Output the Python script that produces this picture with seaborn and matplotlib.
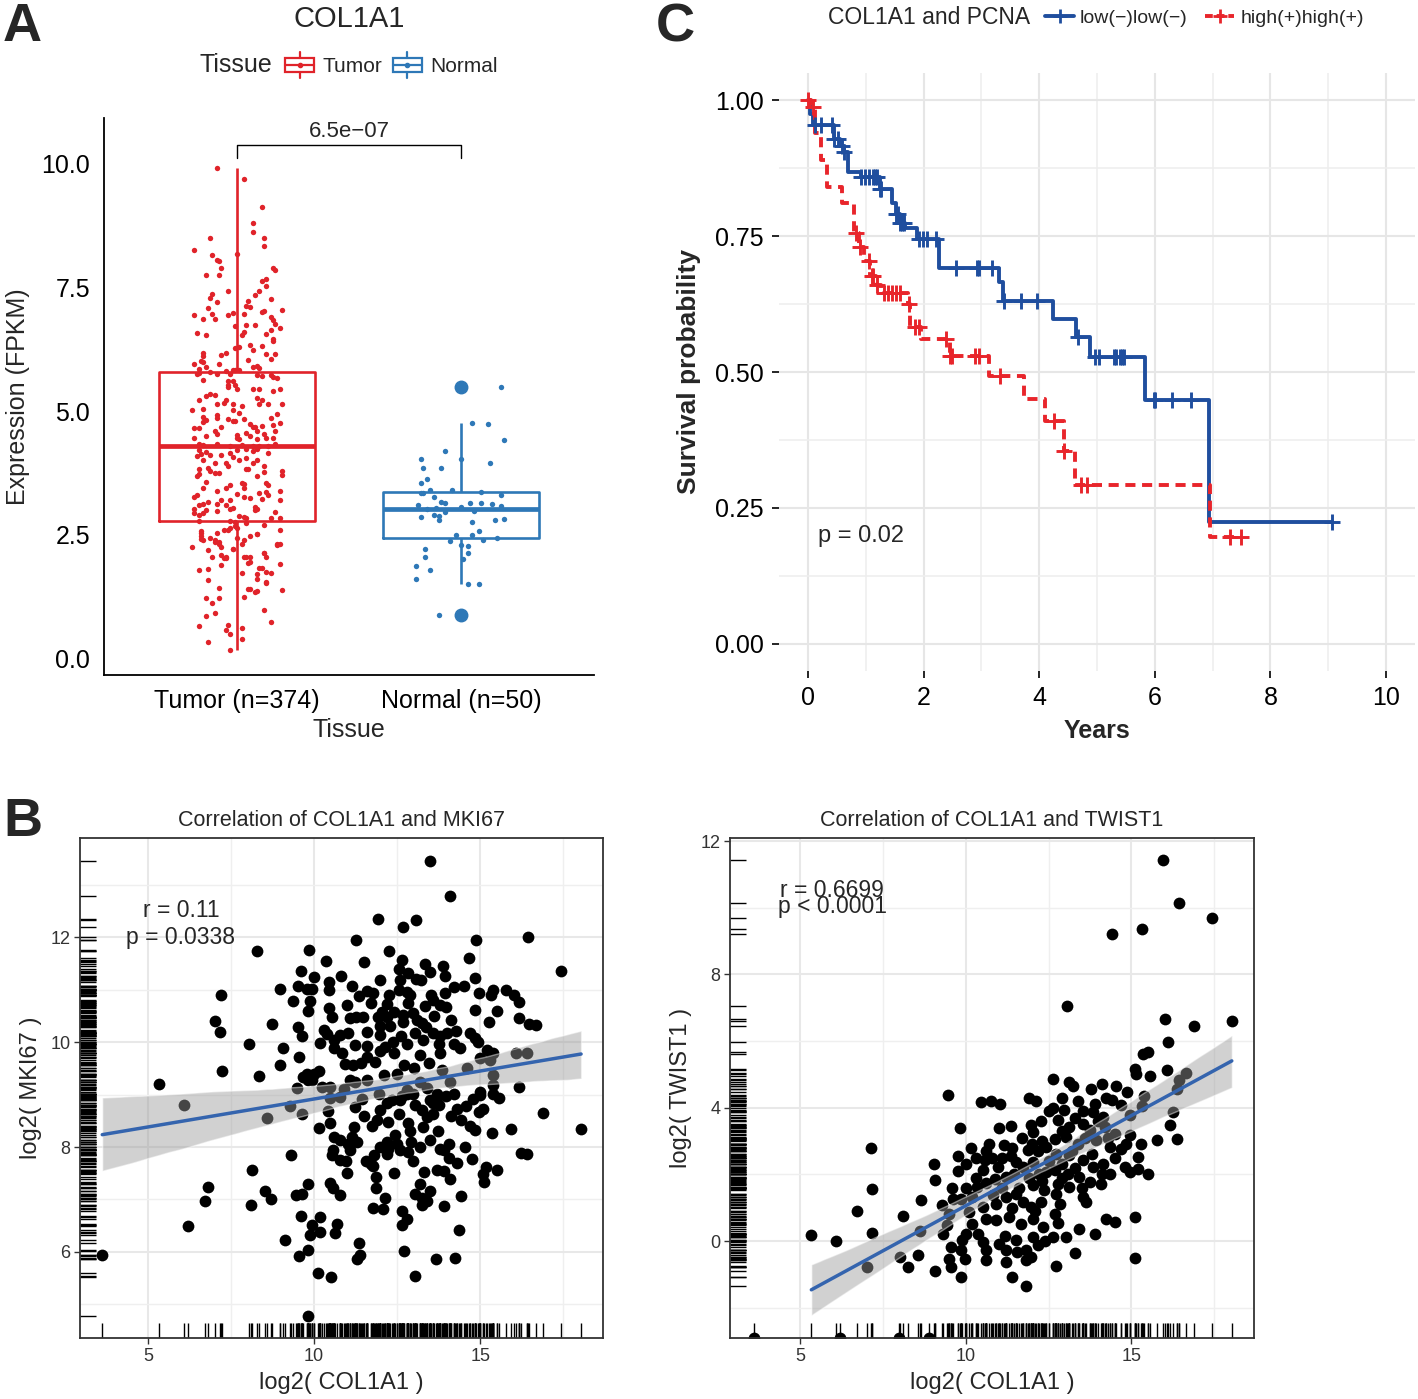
import numpy as np
import pandas as pd
import matplotlib
matplotlib.use("Agg")
import matplotlib.pyplot as plt
import seaborn as sns
from matplotlib.patches import Rectangle, Patch
from matplotlib.lines import Line2D
from matplotlib.legend_handler import HandlerBase

sns.set_style("white")
plt.rcParams["font.family"] = ["Liberation Sans", "DejaVu Sans"]

# ---------------- DATA ----------------
# Panel A: (jitter offset, expression)
tissue_order = ["Tumor", "Normal"]
tissue_ticklabels = ["Tumor (n=374)", "Normal (n=50)"]
tumor_points = [
    (-0.09, 9.91), (0.03, 9.70), (0.11, 9.13), (0.07, 8.81), (0.07, 8.62), (-0.12, 8.51), (0.12, 8.51), (0.12, 8.35),
    (-0.19, 8.25), (0.00, 8.17), (-0.11, 8.16), (-0.09, 8.05), (-0.08, 8.03), (-0.07, 7.90), (0.16, 7.90), (0.17, 7.86),
    (-0.14, 7.76), (-0.08, 7.75), (0.11, 7.63), (0.13, 7.67), (0.13, 7.53), (-0.04, 7.43), (0.10, 7.43), (0.08, 7.34),
    (-0.11, 7.36), (-0.12, 7.29), (0.15, 7.27), (-0.09, 7.20), (0.05, 7.23), (0.04, 7.13), (-0.13, 7.09), (0.06, 7.11),
    (0.12, 7.03), (0.11, 7.00), (0.20, 7.04), (-0.19, 6.95), (-0.04, 6.94), (-0.02, 6.99), (0.03, 6.97), (-0.11, 6.97),
    (-0.10, 6.86), (-0.15, 6.86), (0.15, 6.90), (0.16, 6.84), (-0.01, 6.72), (0.04, 6.75), (0.08, 6.75), (0.17, 6.77),
    (0.19, 6.68), (0.15, 6.65), (0.03, 6.59), (0.02, 6.53), (-0.18, 6.57), (-0.14, 6.53), (0.13, 6.56), (0.16, 6.42),
    (0.16, 6.45), (-0.01, 6.28), (0.01, 6.29), (0.06, 6.33), (0.07, 6.23), (0.11, 6.32), (-0.05, 6.18), (-0.07, 6.14),
    (-0.15, 6.18), (-0.15, 6.12), (0.17, 6.16), (0.13, 6.15), (0.15, 6.06), (0.05, 6.04), (-0.08, 5.96), (-0.19, 5.96),
    (-0.16, 6.01), (-0.15, 6.00), (-0.14, 5.89), (-0.17, 5.85), (-0.17, 5.78), (-0.18, 5.75), (-0.02, 5.83), (-0.01, 5.84),
    (0.01, 5.84), (0.07, 5.89), (0.09, 5.92), (0.10, 5.87), (-0.12, 5.79), (-0.09, 5.75), (-0.05, 5.81), (-0.03, 5.76),
    (0.09, 5.74), (0.11, 5.71), (0.15, 5.72), (0.16, 5.69), (0.18, 5.66), (-0.15, 5.62), (-0.04, 5.60), (-0.02, 5.60),
    (-0.04, 5.52), (-0.04, 5.48), (-0.01, 5.52), (0.00, 5.44), (0.07, 5.45), (0.10, 5.44), (0.16, 5.41), (0.19, 5.45),
    (-0.12, 5.35), (-0.10, 5.32), (-0.14, 5.31), (-0.17, 5.23), (-0.09, 5.15), (-0.05, 5.22), (-0.06, 5.17), (-0.02, 5.14),
    (0.02, 5.10), (0.09, 5.27), (0.11, 5.23), (0.10, 5.15), (0.14, 5.14), (0.20, 5.15), (-0.20, 5.03), (-0.15, 5.04),
    (-0.02, 5.03), (0.01, 4.96), (-0.09, 4.93), (-0.15, 4.88), (-0.14, 4.81), (-0.09, 4.85), (-0.15, 4.77), (-0.04, 4.83),
    (-0.02, 4.80), (-0.01, 4.80), (0.03, 4.84), (0.18, 4.95), (0.15, 4.86), (0.19, 4.76), (0.16, 4.71), (0.06, 4.73),
    (0.07, 4.67), (0.08, 4.68), (0.11, 4.70), (-0.19, 4.66), (-0.17, 4.66), (-0.07, 4.68), (-0.10, 4.59), (-0.09, 4.54),
    (0.00, 4.52), (0.04, 4.56), (0.09, 4.60), (0.17, 4.59), (0.12, 4.54), (-0.14, 4.49), (-0.19, 4.46), (0.00, 4.46),
    (0.01, 4.44), (0.06, 4.50), (0.13, 4.46), (0.16, 4.45), (0.09, 4.44), (-0.17, 4.34), (-0.15, 4.32), (-0.09, 4.34),
    (-0.03, 4.29), (0.02, 4.32), (0.07, 4.29), (0.10, 4.30), (0.14, 4.29), (0.17, 4.34), (-0.17, 4.21), (-0.16, 4.13),
    (-0.14, 4.18), (-0.12, 4.12), (-0.03, 4.16), (0.00, 4.22), (0.04, 4.23), (0.07, 4.20), (0.09, 4.24), (0.14, 4.16),
    (-0.18, 4.09), (-0.07, 4.11), (-0.02, 4.07), (0.01, 4.01), (0.04, 4.05), (-0.15, 4.02), (-0.10, 3.94), (-0.05, 3.94),
    (-0.04, 3.88), (0.07, 3.94), (0.09, 4.01), (-0.17, 3.82), (-0.13, 3.84), (-0.12, 3.78), (-0.10, 3.75), (-0.08, 3.74),
    (0.04, 3.82), (0.05, 3.82), (0.12, 3.88), (0.12, 3.77), (0.20, 3.79), (0.20, 3.70), (-0.17, 3.72), (-0.18, 3.68),
    (0.09, 3.68), (-0.14, 3.56), (0.02, 3.55), (0.03, 3.52), (0.13, 3.55), (0.14, 3.51), (-0.03, 3.50), (-0.05, 3.45),
    (-0.15, 3.45), (-0.09, 3.39), (0.03, 3.44), (0.13, 3.37), (0.19, 3.38), (0.00, 3.33), (0.10, 3.34), (0.14, 3.31),
    (-0.19, 3.26), (-0.18, 3.30), (0.03, 3.26), (0.06, 3.24), (0.11, 3.22), (0.19, 3.20), (-0.07, 3.20), (-0.03, 3.21),
    (-0.15, 3.12), (-0.13, 3.16), (-0.09, 3.13), (-0.05, 3.10), (-0.17, 3.10), (0.08, 3.06), (0.09, 3.02), (-0.19, 3.01),
    (-0.14, 2.99), (-0.09, 2.98), (-0.03, 3.01), (-0.02, 3.03), (0.08, 3.00), (0.17, 2.95), (-0.19, 2.93), (-0.17, 2.89),
    (-0.15, 2.93), (0.01, 2.88), (0.03, 2.85), (0.04, 2.83), (0.15, 2.83), (0.19, 2.83), (-0.17, 2.78), (-0.03, 2.78),
    (-0.01, 2.76), (0.04, 2.74), (-0.01, 2.68), (0.19, 2.59), (-0.16, 2.57), (-0.04, 2.60), (-0.06, 2.59), (-0.03, 2.64),
    (0.09, 2.51), (-0.16, 2.47), (-0.12, 2.43), (-0.09, 2.54), (-0.08, 2.35), (-0.16, 2.41), (0.00, 2.43), (0.03, 2.39),
    (0.02, 2.32), (0.19, 2.32), (0.18, 2.29), (-0.20, 2.24), (-0.10, 2.40), (-0.07, 2.24), (-0.02, 2.21), (-0.13, 2.18),
    (-0.07, 2.08), (0.04, 2.05), (0.12, 2.12), (0.13, 2.05), (-0.05, 2.02), (-0.05, 2.05), (0.06, 2.04), (-0.11, 2.04),
    (0.05, 1.92), (-0.07, 1.89), (0.19, 1.90), (0.11, 1.83), (-0.17, 1.79), (-0.13, 1.80), (0.02, 1.73), (0.15, 1.73),
    (0.09, 1.70), (-0.13, 1.59), (0.05, 1.40), (-0.08, 1.42), (0.20, 1.38), (0.08, 1.34), (0.13, 1.52), (0.03, 1.24),
    (-0.14, 1.21), (-0.08, 1.22), (-0.11, 1.11), (0.12, 0.98), (-0.10, 0.91), (-0.14, 0.85), (0.15, 0.74), (-0.17, 0.66),
    (-0.04, 0.67), (0.02, 0.61), (-0.05, 0.57), (-0.03, 0.49), (0.02, 0.38), (-0.13, 0.32), (-0.03, 0.16),
    (-0.16, 2.54), (-0.15, 2.39), (0.00, 2.63), (0.06, 2.48), (0.09, 2.52), (0.12, 2.69), (-0.10, 2.35), (-0.08, 2.32),
    (-0.02, 2.20), (0.12, 2.13), (0.18, 2.31), (-0.06, 2.02), (0.03, 2.05), (0.06, 1.95), (0.10, 1.83), (0.13, 1.75),
    (0.09, 1.60), (0.13, 1.54), (0.06, 1.41), (0.09, 1.36),
]
normal_points = [
    (0.18, 5.48), (0.05, 4.76), (0.12, 4.73), (0.19, 4.41), (-0.07, 4.19), (-0.18, 4.03), (0.00, 4.03), (0.13, 3.94),
    (-0.17, 3.84), (-0.09, 3.84), (-0.15, 3.62), (-0.18, 3.55), (-0.14, 3.41), (-0.18, 3.34), (-0.17, 3.34), (0.09, 3.36),
    (0.18, 3.30), (-0.12, 3.26), (-0.09, 3.16), (-0.07, 3.15), (0.04, 3.15), (0.09, 3.15), (0.14, 3.13), (-0.19, 3.10),
    (-0.15, 3.02), (-0.11, 3.03), (-0.07, 2.96), (0.18, 3.07), (-0.18, 2.86), (-0.10, 2.87), (-0.10, 2.79), (0.05, 2.76),
    (0.15, 2.80), (0.19, 2.82), (0.08, 2.58), (-0.02, 2.50), (0.05, 2.50), (0.16, 2.44), (0.00, 2.29), (0.03, 2.27),
    (-0.16, 2.20), (0.03, 2.12), (-0.16, 2.04), (0.01, 2.01), (-0.20, 1.86), (-0.14, 1.79), (-0.20, 1.61), (0.03, 1.50),
    (0.08, 1.50), (-0.10, 0.88), (0.00, 3.05), (-0.04, 3.40), (0.06, 2.98), (-0.12, 2.90), (0.10, 2.40), (-0.05, 2.38),
]
p_value_A = "6.5e\u221207"

# Panel C: Kaplan-Meier steps (years, survival) and censor times
km_labels = ["low(\u2212)low(\u2212)", "high(+)high(+)"]
low_time = [0, 0.04, 0.09, 0.45, 0.55, 0.63, 0.70, 0.91, 1.24, 1.45, 1.52, 1.60, 1.68, 1.88, 2.26, 3.30, 3.37,
            4.24, 4.63, 4.88, 5.83, 6.93, 9.07]
low_surv = [1.0, 0.975, 0.954, 0.928, 0.915, 0.904, 0.867, 0.858, 0.836, 0.810, 0.790, 0.775, 0.765, 0.745, 0.692,
            0.665, 0.631, 0.597, 0.564, 0.527, 0.449, 0.225, 0.225]
low_censor = [0.12, 0.23, 0.41, 0.45, 0.52, 0.59, 0.63, 0.91, 0.98, 1.06, 1.13, 1.16, 1.20, 1.24, 1.27, 1.52, 1.56,
              1.60, 1.63, 1.67, 1.92, 1.99, 2.06, 2.21, 2.56, 2.92, 2.96, 3.18, 3.39, 3.68, 3.97, 4.68, 4.97, 5.04,
              5.29, 5.33, 5.40, 5.44, 5.47, 5.98, 6.01, 6.30, 6.62, 9.07]
high_time = [0, 0.05, 0.12, 0.23, 0.33, 0.59, 0.80, 0.88, 0.97, 1.08, 1.17, 1.27, 1.73, 1.76, 1.95, 2.46, 3.14,
             3.74, 4.10, 4.43, 4.62, 6.95, 7.49]
high_surv = [1.0, 0.987, 0.94, 0.89, 0.841, 0.81, 0.755, 0.73, 0.705, 0.677, 0.66, 0.646, 0.625, 0.582, 0.56, 0.529,
             0.493, 0.45, 0.41, 0.355, 0.292, 0.196, 0.196]
high_censor = [0.0, 0.09, 0.84, 0.90, 1.06, 1.10, 1.13, 1.20, 1.31, 1.38, 1.45, 1.52, 1.59, 1.75, 1.85, 1.92, 2.39,
               2.46, 2.49, 2.89, 2.96, 3.32, 4.25, 4.43, 4.72, 4.83, 7.30, 7.49]

# Panel B: (log2 COL1A1, log2 MKI67)
mki67_points = [
    (3.62, 5.94), (5.32, 9.21), (6.08, 8.81), (6.20, 6.50), (6.70, 6.98), (6.79, 7.24), (7.03, 10.41), (7.16, 10.20),
    (7.20, 10.90), (7.22, 9.45), (16.45, 12.01), (17.43, 11.36), (15.77, 11.00), (16.02, 10.90), (16.16, 10.76),
    (16.18, 10.46), (16.47, 10.34), (16.67, 10.32), (16.09, 9.80), (16.40, 9.80), (16.18, 9.15), (16.89, 8.64),
    (18.04, 8.35), (15.94, 8.34), (16.23, 7.89), (16.42, 7.87), (13.49, 13.46), (9.81, 4.78),
    (14.08, 12.78), (11.92, 12.34), (12.69, 12.20), (13.07, 12.32), (11.26, 11.95), (14.88, 11.94), (8.27, 11.73),
    (9.84, 11.75), (12.27, 11.74), (10.35, 11.54), (11.51, 11.52), (12.66, 11.56), (14.65, 11.60), (13.34, 11.49),
    (13.88, 11.45), (9.61, 11.36), (10.01, 11.25), (10.81, 11.26), (12.55, 11.40), (12.82, 11.31), (13.07, 11.21),
    (13.49, 11.34), (13.93, 11.26), (14.85, 11.23), (8.97, 11.02), (9.50, 11.07), (9.78, 11.02), (9.94, 11.02),
    (10.45, 11.15), (10.46, 10.99), (11.15, 11.07), (11.97, 11.19), (12.59, 11.18), (12.55, 11.00), (12.79, 10.96),
    (13.22, 11.19), (14.20, 11.05), (14.52, 11.07), (9.35, 10.79), (9.87, 10.79), (9.82, 10.60), (11.36, 10.88),
    (11.59, 10.98), (11.77, 10.94), (11.71, 10.75), (12.26, 10.89), (12.19, 10.72), (12.84, 10.75), (13.51, 10.90),
    (13.57, 10.80), (13.93, 10.93), (13.35, 10.69), (13.78, 10.70), (13.98, 10.66), (14.97, 10.93), (15.33, 10.90),
    (15.40, 10.99), (8.72, 10.34), (9.52, 10.29), (9.64, 10.11), (10.46, 10.65), (10.54, 10.47), (11.08, 10.45),
    (11.26, 10.48), (11.46, 10.47), (11.91, 10.48), (12.04, 10.58), (12.19, 10.48), (12.42, 10.58), (12.69, 10.51),
    (12.67, 10.39), (12.99, 10.56), (13.09, 10.42), (13.26, 10.36), (13.37, 10.29), (14.13, 10.42), (14.86, 10.61),
    (15.28, 10.39), (15.50, 10.59), (10.31, 10.23), (10.40, 10.15), (11.97, 10.30), (11.99, 10.13), (10.78, 10.13),
    (11.03, 10.17), (10.60, 10.04), (10.18, 9.99), (13.04, 10.18), (13.27, 10.04), (13.59, 10.18), (13.78, 10.11),
    (14.00, 10.17), (14.28, 10.22), (14.68, 10.18), (14.86, 10.07), (12.37, 10.01), (12.61, 10.11), (12.79, 9.97),
    (13.75, 9.96), (14.20, 9.97), (14.40, 9.88), (14.95, 10.01), (8.04, 9.96), (9.06, 9.88), (9.55, 9.71),
    (10.60, 9.88), (10.83, 9.80), (11.23, 9.94), (11.59, 9.92), (11.97, 9.83), (12.14, 9.90), (13.19, 9.75),
    (15.20, 9.85), (8.98, 9.57), (8.34, 9.36), (10.93, 9.58), (11.18, 9.56), (11.59, 9.72), (11.83, 9.63),
    (12.72, 9.56), (13.45, 9.61), (9.78, 9.40), (10.00, 9.39), (10.16, 9.45), (9.68, 9.34), (9.93, 9.28),
    (15.38, 9.80), (15.00, 9.05), (15.40, 9.37), (15.40, 9.18), (9.48, 9.12), (10.23, 9.15), (11.08, 9.28),
    (12.09, 9.37), (12.49, 9.39), (13.19, 9.24), (13.85, 9.47), (15.00, 9.69),
    (8.59, 8.56), (9.26, 8.79), (9.63, 8.62), (10.48, 8.94), (10.43, 8.69), (10.14, 8.37), (10.47, 8.46),
    (11.22, 8.76), (11.20, 8.39), (10.60, 8.19), (10.78, 8.13), (11.13, 8.19), (10.56, 7.94), (11.03, 8.06),
    (11.08, 7.94), (10.53, 7.84), (10.78, 7.76), (10.96, 7.73), (9.30, 7.84), (8.13, 7.56), (8.09, 6.89),
    (8.53, 7.17), (8.70, 7.00), (9.45, 7.08), (9.63, 7.10), (9.81, 7.29), (10.48, 7.32), (10.56, 7.21),
    (10.78, 7.08), (9.60, 6.69), (10.19, 6.67), (9.95, 6.52), (9.88, 6.32), (10.18, 6.38), (10.70, 6.54),
    (10.62, 6.37), (9.11, 6.22), (9.55, 5.92), (9.81, 6.03), (11.36, 6.17), (11.29, 5.87), (11.39, 5.94),
    (10.11, 5.59), (10.51, 5.52), (11.94, 9.02), (11.99, 8.70), (11.74, 8.41), (11.89, 8.51), (12.19, 8.83),
    (12.22, 8.48), (12.57, 8.63), (12.64, 8.97), (12.84, 8.46), (12.97, 9.02), (13.04, 8.81), (13.24, 8.70),
    (13.29, 8.39), (13.39, 8.57), (13.57, 8.63), (13.69, 8.95), (13.77, 8.81), (13.97, 8.97), (14.20, 9.02),
    (14.12, 8.60), (14.30, 8.73), (14.43, 8.51), (14.58, 8.79), (14.70, 8.41), (14.86, 8.32), (14.98, 8.67),
    (15.10, 8.73), (15.00, 9.00), (15.56, 8.94), (15.37, 8.27), (13.74, 8.30), (13.49, 8.14), (12.44, 8.22),
    (12.19, 8.10), (11.99, 8.00), (12.24, 7.97), (12.51, 8.06), (12.59, 7.95), (12.91, 8.10), (12.84, 7.90),
    (12.19, 7.87), (11.79, 7.84), (11.71, 7.68), (11.57, 7.73), (11.77, 7.63), (12.99, 7.73), (13.80, 7.97),
    (14.05, 8.06), (13.90, 7.94), (14.07, 7.79), (14.53, 8.00), (14.75, 7.78), (13.31, 7.52), (13.69, 7.56),
    (13.90, 7.54), (14.08, 7.40), (15.18, 7.62), (15.10, 7.48), (15.13, 7.33), (15.50, 7.56), (11.87, 7.43),
    (11.87, 7.21), (12.15, 7.03), (13.19, 7.29), (13.04, 7.11), (13.49, 7.17), (13.24, 7.02), (13.39, 6.98),
    (13.26, 6.89), (14.42, 7.06), (13.90, 6.87), (11.76, 6.84), (12.07, 6.81), (12.64, 6.79), (12.81, 6.62),
    (12.66, 6.51), (14.37, 6.41), (12.71, 6.01), (13.67, 5.87), (14.25, 5.89), (13.04, 5.54),
    (10.48, 9.15), (11.23, 9.24), (14.10, 9.24), (15.30, 9.66), (11.59, 9.28), (12.79, 9.09), (13.39, 9.12),
    (9.83, 9.28), (13.69, 9.02), (12.79, 9.02), (12.34, 8.89), (13.59, 8.83), (14.80, 8.92), (15.40, 9.02),
    (11.44, 8.92), (10.78, 8.95), (11.00, 10.70), (11.60, 10.20), (12.30, 10.30), (12.90, 10.90), (13.60, 10.50),
    (11.40, 9.60), (12.40, 9.80), (13.00, 9.50), (13.80, 9.80), (10.90, 9.10), (12.60, 8.90), (13.50, 8.90),
    (11.50, 8.60), (12.90, 8.30), (11.30, 8.10), (13.20, 8.00), (12.40, 7.50), (14.30, 7.70), (11.00, 7.50),
    (14.60, 9.50),
]
mki67_stats = ["r = 0.11", "p = 0.0338"]

# Panel B right: (log2 COL1A1, log2 TWIST1); -inf = TWIST1 not detected
twist1_points = [
    (15.95, 11.44), (16.44, 10.15), (17.43, 9.70), (15.33, 9.36), (14.40, 9.21), (13.06, 7.05), (16.02, 6.65),
    (16.88, 6.46), (18.03, 6.61), (5.34, 0.19), (6.09, -0.01), (6.71, 0.89),
    (3.61, -np.inf), (6.19, -np.inf), (7.98, -np.inf), (8.90, -np.inf),
    (9.47, 4.37), (10.45, 4.17), (10.76, 4.20), (11.03, 4.10), (11.90, 4.30), (12.12, 4.20), (9.83, 3.39),
    (10.99, 3.39), (11.36, 3.44), (11.97, 3.47), (12.02, 3.27), (12.27, 3.60), (7.13, 2.80), (10.17, 2.80),
    (10.61, 2.70), (11.16, 2.87), (9.78, 2.54), (10.02, 2.30), (9.04, 2.32), (10.59, 2.44), (10.79, 2.50),
    (11.38, 2.54), (11.52, 2.37), (11.87, 2.74), (12.17, 2.70), (12.42, 2.82), (11.72, 2.22), (12.02, 2.37),
    (9.07, 1.84), (9.78, 2.10), (10.51, 2.12), (10.96, 2.22), (11.21, 1.92), (11.46, 2.02), (12.22, 2.02),
    (12.42, 2.07), (7.18, 1.57), (10.35, 1.62), (10.61, 1.74), (10.89, 1.87), (12.02, 1.67), (12.37, 1.52),
    (8.66, 1.22), (9.27, 1.07), (9.62, 1.27), (9.85, 1.27), (10.20, 1.32), (10.81, 1.37), (11.21, 1.32),
    (11.52, 1.42), (11.72, 1.17), (11.97, 1.02), (12.27, 1.17), (8.10, 0.75), (8.63, 0.30), (9.49, 0.82),
    (9.44, 0.47), (10.10, 0.87), (10.61, 0.67), (10.51, 1.02), (10.91, 0.62), (11.31, 0.72), (11.67, 0.52),
    (12.02, 0.67), (12.32, 0.42), (7.17, 0.24), (10.00, 0.22), (10.38, 0.22), (9.90, 0.02), (10.51, -0.03),
    (11.18, 0.14), (11.52, 0.02), (12.02, 0.12), (9.55, -0.18), (9.85, -0.28), (10.61, -0.28), (11.21, -0.28),
    (11.56, -0.33), (11.82, -0.28), (12.17, -0.13), (8.03, -0.48), (8.56, -0.43), (7.02, -0.78), (9.49, -0.53),
    (9.98, -0.53), (10.61, -0.58), (11.21, -0.63), (11.82, -0.58), (11.97, -0.48), (8.26, -0.78), (9.06, -0.90),
    (9.55, -0.78), (9.85, -1.08), (11.41, -1.08), (11.82, -1.35),
    (16.11, 5.97), (15.35, 5.62), (15.51, 5.67), (15.10, 5.17), (15.13, 5.02), (15.56, 4.94), (16.08, 5.14),
    (16.65, 5.04), (16.44, 4.84), (16.38, 4.57), (12.63, 4.87), (13.13, 4.77), (13.23, 4.64), (13.79, 4.57),
    (14.11, 4.70), (14.55, 4.64), (14.87, 4.47), (14.22, 4.30), (14.42, 4.22), (14.70, 4.07), (15.37, 4.34),
    (15.33, 4.04), (12.63, 4.00), (12.98, 3.94), (13.54, 3.90), (13.84, 3.87), (14.14, 3.72), (14.95, 3.77),
    (16.26, 3.87), (16.16, 3.49), (16.38, 3.07), (15.76, 3.04), (15.51, 2.00), (12.78, 3.62), (13.13, 3.42),
    (13.54, 3.52), (13.74, 3.32), (14.19, 3.42), (14.49, 3.22), (14.95, 3.17), (15.30, 2.92), (14.83, 2.92),
    (12.68, 3.07), (13.03, 3.12), (13.38, 2.92), (13.94, 3.02), (14.34, 2.82), (14.70, 2.77), (15.20, 2.52),
    (12.73, 2.62), (13.13, 2.57), (13.54, 2.42), (13.84, 2.22), (14.14, 2.32), (14.80, 2.22), (14.95, 2.07),
    (15.20, 2.17), (12.68, 2.12), (13.08, 2.02), (13.43, 1.92), (13.74, 1.77), (14.09, 1.72), (14.34, 2.00),
    (12.78, 1.72), (13.13, 1.62), (13.54, 1.32), (13.64, 1.17), (12.73, 1.42), (12.83, 1.12), (12.68, 0.82),
    (12.78, 0.54), (14.24, 0.67), (14.49, 0.57), (15.12, 0.72), (13.43, 0.37), (13.89, 0.22), (12.63, 0.12),
    (13.03, 0.12), (13.31, -0.36), (12.71, -0.76), (15.10, -0.50),
    (12.90, 4.30), (13.40, 4.20), (13.90, 4.10), (14.00, 3.60), (13.30, 3.70), (12.90, 3.30), (13.60, 3.10),
    (14.30, 3.10), (13.20, 2.70), (13.80, 2.60), (14.50, 2.50), (12.90, 2.30), (13.30, 2.20), (14.10, 2.00),
    (13.50, 1.60), (12.90, 1.90), (12.50, 3.90), (12.30, 3.00), (12.00, 2.90), (11.70, 3.10), (11.40, 2.80),
    (11.10, 2.50), (12.50, 2.40), (12.30, 1.80), (11.90, 1.90), (11.60, 1.60), (11.10, 1.60), (10.90, 1.10),
    (11.40, 1.00), (12.10, 0.90), (10.30, 1.90), (10.00, 1.60), (10.70, 2.90), (10.30, 2.50), (9.60, 1.60),
    (9.30, 0.20), (10.20, 0.50), (11.00, -0.10), (12.40, 0.00),
]
twist1_stats = ["r = 0.6699", "p < 0.0001"]

# ---------------- STYLE ----------------
RED = "#E0232A"
BLUE_A = "#2E78B7"
KM_BLUE = "#1F4E9E"
KM_RED = "#E8252B"
FIT_BLUE = "#3464AE"
W, H = 1418, 1399


def fbox(l, t, r, b):
    return [l / W, 1 - b / H, (r - l) / W, (b - t) / H]


fig = plt.figure(figsize=(W / 100, H / 100), dpi=100)

# ================= Panel A =================
axA = fig.add_axes(fbox(104, 118, 594, 675))
tj, tv = zip(*tumor_points)
nj, nv = zip(*normal_points)
dfA = pd.DataFrame({
    "Tissue": ["Tumor"] * len(tv) + ["Normal"] * len(nv),
    "pos": [0] * len(tv) + [1] * len(nv),
    "Expr": list(tv) + list(nv),
})
sns.boxplot(data=dfA, x="pos", y="Expr", hue="Tissue", hue_order=tissue_order,
            palette=[RED, BLUE_A], native_scale=True, fill=False, dodge=False,
            width=0.7, linewidth=1.9, showcaps=False, legend=False,
            flierprops=dict(marker="o", markersize=9),
            medianprops=dict(linewidth=3.4), ax=axA)
for ln in axA.lines:
    if ln.get_marker() == "o":
        ln.set_markerfacecolor(BLUE_A)
        ln.set_markeredgecolor(BLUE_A)
sns.scatterplot(x=np.array(tj) + 0, y=tv, color=RED, s=15, linewidth=0, ax=axA, zorder=3)
sns.scatterplot(x=np.array(nj) + 1, y=nv, color=BLUE_A, s=15, linewidth=0, ax=axA, zorder=3)
axA.set_yticks([0, 2.5, 5.0, 7.5, 10.0])
axA.set_yticklabels(["0.0", "2.5", "5.0", "7.5", "10.0"])
axA.set_xticks([0, 1])
axA.set_xticklabels(tissue_ticklabels)
axA.set_xlim(-0.594, 1.594)
axA.set_ylim(-0.34, 10.93)
axA.tick_params(labelsize=18, length=6, width=1.2, color="black", labelcolor="black", pad=4)
for s in ["top", "right"]:
    axA.spines[s].set_visible(False)
for s in ["left", "bottom"]:
    axA.spines[s].set_color("black")
    axA.spines[s].set_linewidth(1.3)
axA.set_xlabel("Tissue", fontsize=18, labelpad=4)
axA.set_ylabel("Expression (FPKM)", fontsize=18, labelpad=8)
axA.plot([0, 0, 1, 1], [10.12, 10.38, 10.38, 10.12], color="black", lw=1.0)
axA.text(0.5, 10.45, p_value_A, ha="center", va="bottom", fontsize=16)
fig.text(349 / W, 1 - 19 / H, "COL1A1", ha="center", va="center", fontsize=21)
fig.text(200 / W, 1 - 65 / H, "Tissue", ha="left", va="center", fontsize=18)


class BoxKeyHandler(HandlerBase):
    def create_artists(self, legend, orig_handle, xdescent, ydescent, width, height, fontsize, trans):
        c = orig_handle.get_edgecolor()
        x0, y0 = -xdescent, -ydescent
        cx = x0 + width / 2
        rect = Rectangle((x0, y0 + 0.18 * height), width, 0.64 * height, facecolor="white",
                         edgecolor=c, lw=1.6, transform=trans)
        med = Line2D([x0, x0 + width], [y0 + height / 2] * 2, color=c, lw=1.6, transform=trans)
        wt = Line2D([cx, cx], [y0 + 0.82 * height, y0 + 1.12 * height], color=c, lw=1.6, transform=trans)
        wb = Line2D([cx, cx], [y0 - 0.12 * height, y0 + 0.18 * height], color=c, lw=1.6, transform=trans)
        dot = Line2D([cx], [y0 + height / 2], marker="o", ms=3, color=c, lw=0, transform=trans)
        return [rect, med, wt, wb, dot]


fig.legend(handles=[Patch(edgecolor=RED, facecolor="white"), Patch(edgecolor=BLUE_A, facecolor="white")],
           labels=tissue_order, handler_map={Patch: BoxKeyHandler()}, loc="center left",
           bbox_to_anchor=(285 / W, 1 - 65 / H), ncol=2, frameon=False, fontsize=15,
           handlelength=1.4, handleheight=1.2, handletextpad=0.4, columnspacing=0.5,
           borderpad=0, borderaxespad=0)

# ================= Panel C =================
axC = fig.add_axes(fbox(779, 73, 1415, 671))
sns.lineplot(x=low_time, y=low_surv, drawstyle="steps-post", color=KM_BLUE, lw=2.8,
             estimator=None, sort=False, ax=axC)
sns.lineplot(x=high_time, y=high_surv, drawstyle="steps-post", color=KM_RED, lw=2.8,
             estimator=None, sort=False, ax=axC)
axC.lines[-1].set_dashes([2.6, 1.7])


def surv_at(times, surv, t):
    idx = np.searchsorted(np.array(times), np.array(t), side="right") - 1
    return np.array(surv)[idx]


sns.scatterplot(x=low_censor, y=surv_at(low_time, low_surv, low_censor), marker="+", s=120,
                color=KM_BLUE, linewidth=2.1, ax=axC, zorder=4)
sns.scatterplot(x=high_censor, y=surv_at(high_time, high_surv, high_censor), marker="+", s=120,
                color=KM_RED, linewidth=2.1, ax=axC, zorder=4)
axC.set_xticks(range(0, 11, 2))
axC.set_xticks(range(1, 11, 2), minor=True)
axC.set_yticks([0, 0.25, 0.5, 0.75, 1.0])
axC.set_yticklabels(["0.00", "0.25", "0.50", "0.75", "1.00"])
axC.set_yticks([0.125, 0.375, 0.625, 0.875], minor=True)
axC.set_xlim(-0.5, 10.5)
axC.set_ylim(-0.05, 1.05)
axC.grid(True, which="major", color="#E6E6E6", lw=1.5)
axC.grid(True, which="minor", color="#EEEEEE", lw=1.1)
axC.set_axisbelow(True)
for s in axC.spines.values():
    s.set_visible(False)
axC.tick_params(which="major", labelsize=18, length=5, width=1.2, color="black", labelcolor="black", pad=6,
                left=True, bottom=True)
axC.tick_params(which="minor", length=0)
axC.set_xlabel("Years", fontsize=18, fontweight="bold", labelpad=6)
axC.set_ylabel("Survival probability", fontsize=19, fontweight="bold", labelpad=10)
axC.text(0.17, 0.199, "p = 0.02", ha="left", va="center", fontsize=17)
fig.text(828 / W, 1 - 18 / H, "COL1A1 and PCNA", ha="left", va="center", fontsize=16.5)
fig.legend(handles=[Line2D([], [], color=KM_BLUE, lw=2.8, marker="+", ms=10, mew=2),
                    Line2D([], [], color=KM_RED, lw=2.8, ls=(0, (2.0, 1.0)), marker="+", ms=10, mew=2)],
           labels=km_labels, loc="center left", bbox_to_anchor=(1045 / W, 1 - 18 / H), ncol=2,
           frameon=False, fontsize=14, handlelength=1.5, handletextpad=0.3, columnspacing=0.9,
           borderpad=0, borderaxespad=0)


# ================= Panel B =================
def corr_panel(ax, points, xlim, ylim, yticks, yminor, title, ylabel, stats_fn):
    xs, ys = zip(*points)
    xs = np.array(xs, dtype=float)
    ys = np.array(ys, dtype=float)
    fin = np.isfinite(ys)
    y_draw = np.where(fin, ys, ylim[0])
    sns.scatterplot(x=xs, y=y_draw, color="black", s=72, linewidth=0, ax=ax, zorder=2)
    sns.regplot(x=xs[fin], y=ys[fin], scatter=False, ci=95, n_boot=1000, seed=3, truncate=True,
                line_kws=dict(color=FIT_BLUE, lw=2.5, zorder=4), ax=ax)
    for coll in ax.collections:
        if coll.__class__.__name__ in ("PolyCollection", "FillBetweenPolyCollection"):
            coll.set_facecolor("#9A9A9A")
            coll.set_alpha(0.45)
            coll.set_zorder(3)
    sns.rugplot(x=xs, height=0.03, color="black", lw=1.1, ax=ax)
    sns.rugplot(y=ys[fin], height=0.03, color="black", lw=1.1, ax=ax)
    ax.set_xticks([5, 10, 15])
    ax.set_xticks([2.5, 7.5, 12.5, 17.5], minor=True)
    ax.set_yticks(yticks)
    ax.set_yticks(yminor, minor=True)
    ax.set_xlim(*xlim)
    ax.set_ylim(*ylim)
    ax.grid(True, which="major", color="#E8E8E8", lw=1.5)
    ax.grid(True, which="minor", color="#EFEFEF", lw=1.0)
    ax.set_axisbelow(True)
    for s in ax.spines.values():
        s.set_color("#333333")
        s.set_linewidth(1.3)
    ax.tick_params(which="major", labelsize=13, length=4, width=1.0, color="#333333",
                   labelcolor="#333333", left=True, bottom=True, pad=3)
    ax.tick_params(which="minor", length=0)
    ax.set_title(title, fontsize=15.5, pad=9)
    ax.set_xlabel("log2( COL1A1 )", fontsize=17, labelpad=5)
    ax.set_ylabel(ylabel, fontsize=17, labelpad=6)
    stats_fn(ax)


def mki_stats(ax):
    ax.text(5.99, 12.50, mki67_stats[0], ha="center", va="center", fontsize=16.5)
    ax.text(5.99, 12.0, mki67_stats[1], ha="center", va="center", fontsize=16.5)


def twist_stats(ax):
    ax.text(5.97, 10.52, twist1_stats[0], ha="center", va="center", fontsize=16.5)
    ax.text(5.97, 10.02, twist1_stats[1], ha="center", va="center", fontsize=16.5)


axB1 = fig.add_axes(fbox(80, 838, 603, 1338))
corr_panel(axB1, mki67_points, (2.95, 18.7), (4.36, 13.89), [6, 8, 10, 12], [5, 7, 9, 11, 13],
           "Correlation of COL1A1 and MKI67", "log2( MKI67 )", mki_stats)
axB2 = fig.add_axes(fbox(730, 838, 1254, 1338))
corr_panel(axB2, twist1_points, (2.885, 18.7), (-2.91, 12.09), [0, 4, 8, 12], [-2, 2, 6, 10],
           "Correlation of COL1A1 and TWIST1", "log2( TWIST1 )", twist_stats)

# panel letters
for lab, (px, py) in {"A": (3, 2), "B": (3, 797), "C": (656, 2)}.items():
    fig.text(px / W, 1 - py / H, lab, ha="left", va="top", fontsize=39, fontweight="bold")

fig.savefig("out.png", dpi=100)
